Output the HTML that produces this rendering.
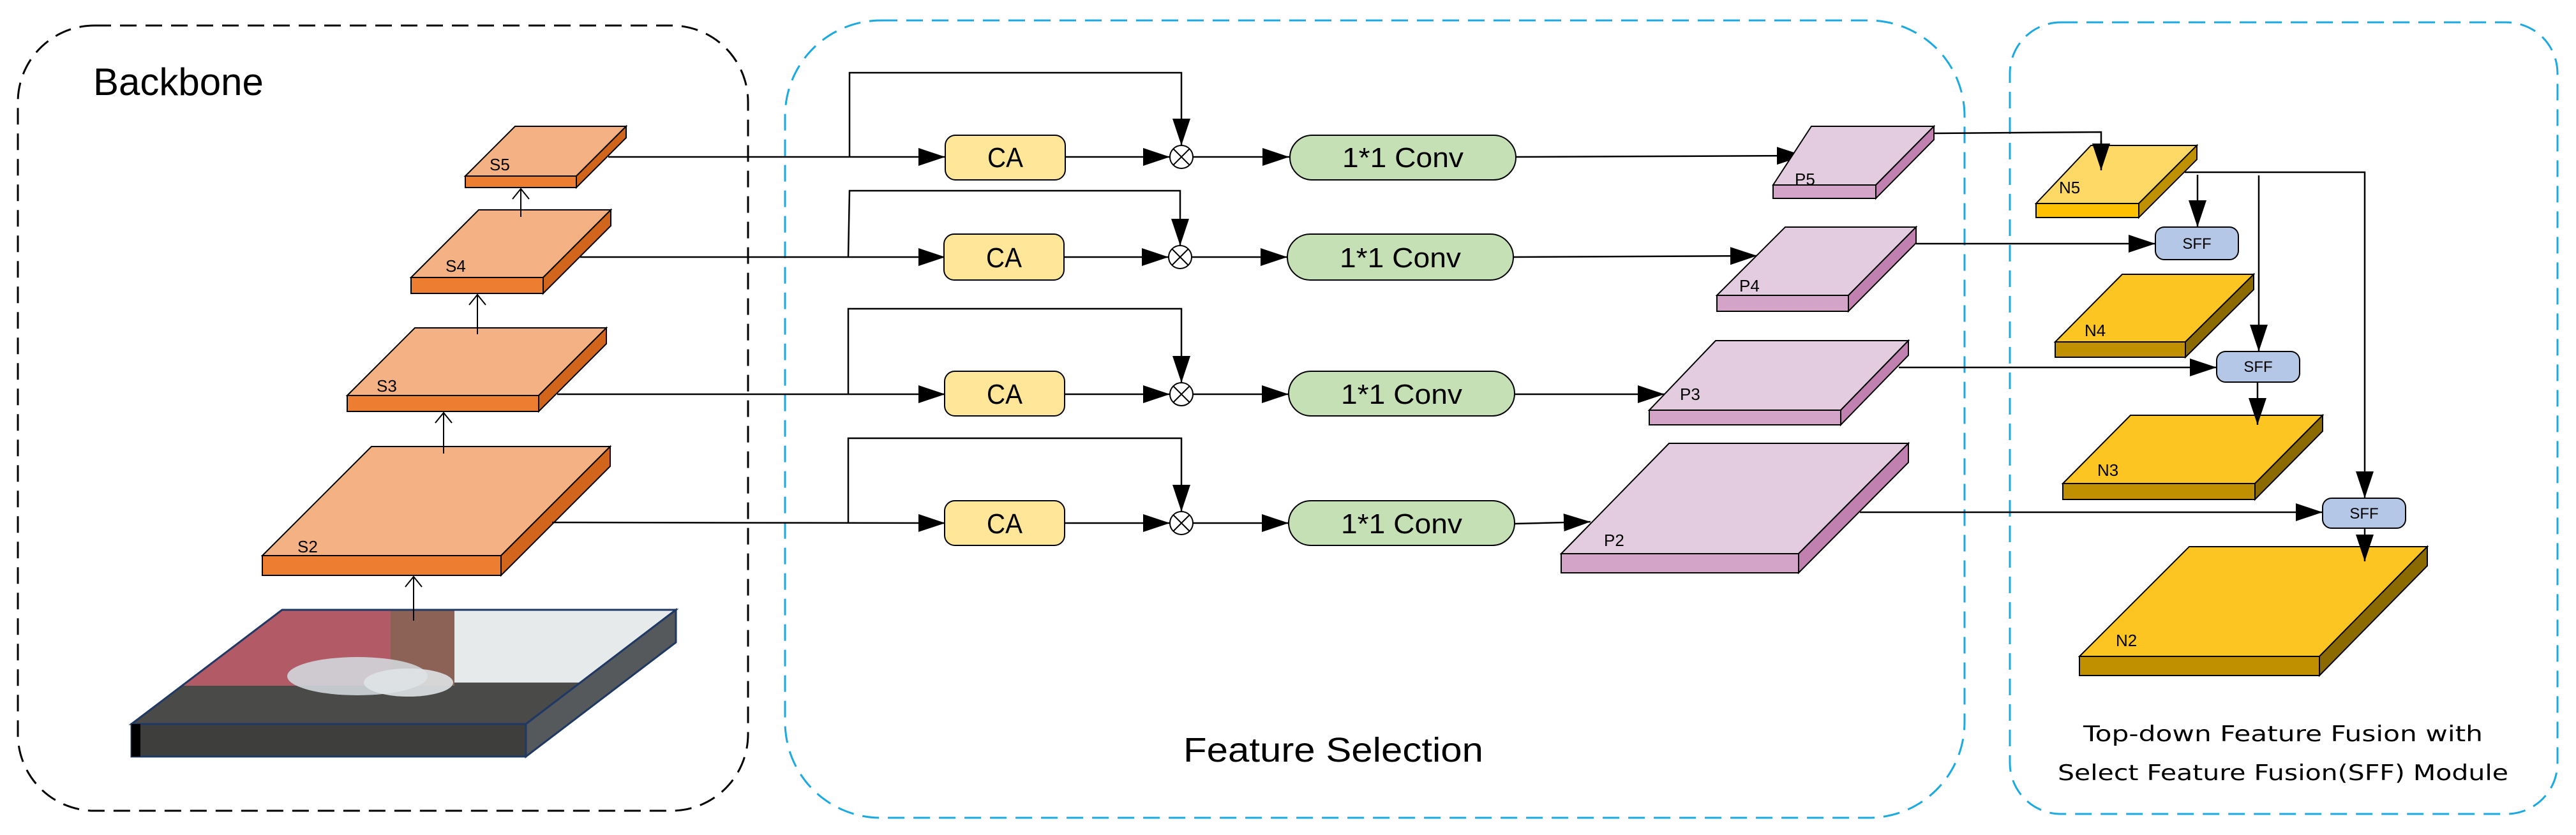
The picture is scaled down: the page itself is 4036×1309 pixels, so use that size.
<!DOCTYPE html>
<html><head><meta charset="utf-8"><style>
html,body{margin:0;padding:0;background:#fff;}
svg{display:block;}
text{font-family:"Liberation Sans",sans-serif;}
</style></head><body>
<svg width="4036" height="1309" viewBox="0 0 4036 1309" xmlns="http://www.w3.org/2000/svg">
<defs>
<marker id="a" markerWidth="42" markerHeight="28" refX="42" refY="14" orient="auto" markerUnits="userSpaceOnUse"><path d="M0,0 L42,14 L0,28 z" fill="#000"/></marker>
<marker id="o" markerWidth="20" markerHeight="30" refX="18" refY="15" orient="auto" markerUnits="userSpaceOnUse"><path d="M2,2 L18,15 L2,28" fill="none" stroke="#000" stroke-width="2"/></marker>
<clipPath id="ph"><polygon points="206,1135 442,956 1059,956 824,1135"/></clipPath>
</defs>

<!-- boxes -->
<rect x="28" y="40" width="1144" height="1231" rx="120" fill="none" stroke="#000" stroke-width="3" stroke-dasharray="26,14"/>
<rect x="1230" y="32" width="1848" height="1250" rx="150" fill="none" stroke="#1aa9e0" stroke-width="3" stroke-dasharray="26,14"/>
<rect x="3149" y="35" width="858" height="1241" rx="80" fill="none" stroke="#1aa9e0" stroke-width="3" stroke-dasharray="26,14"/>

<text x="146" y="149" font-size="60">Backbone</text>
<text x="1854" y="1194" font-size="54" textLength="470" lengthAdjust="spacingAndGlyphs">Feature Selection</text>
<text x="3577" y="1162" font-size="34" text-anchor="middle" style="font-family:'DejaVu Sans',sans-serif" textLength="626" lengthAdjust="spacingAndGlyphs">Top-down Feature Fusion with</text>
<text x="3577" y="1223" font-size="34" text-anchor="middle" style="font-family:'DejaVu Sans',sans-serif" textLength="706" lengthAdjust="spacingAndGlyphs">Select Feature Fusion(SFF) Module</text>

<!-- image slab -->
<g>
<polygon points="206,1135 442,956 1059,956 824,1135" fill="#4c4c4a"/>
<g clip-path="url(#ph)">
<rect x="200" y="950" width="420" height="130" fill="#b25a66"/>
<rect x="612" y="950" width="100" height="130" fill="#8c6256"/>
<rect x="712" y="950" width="360" height="120" fill="#e6eaea"/>
<rect x="200" y="1075" width="900" height="70" fill="#4a4a48"/>
<ellipse cx="560" cy="1060" rx="110" ry="30" fill="#d0d6da" opacity="0.9"/>
<ellipse cx="640" cy="1070" rx="70" ry="22" fill="#dfe3e6" opacity="0.9"/>
</g>
<polygon points="206,1135 442,956 1059,956 824,1135" fill="none" stroke="#1f3864" stroke-width="3"/>
<rect x="206" y="1135" width="618" height="51" fill="#3e3e3c" stroke="#1f3864" stroke-width="3"/>
<polygon points="824,1135 1059,956 1059,1007 824,1186" fill="#55595c" stroke="#1f3864" stroke-width="3"/>
<rect x="206" y="1135" width="14" height="51" fill="#000"/>
</g>

<!-- backbone slabs -->
<g stroke="#000" stroke-width="2">
<polygon points="411,871 582,700 956,700 785,871" fill="#f4b183"/>
<rect x="411" y="871" width="374" height="31" fill="#ed7d31"/>
<polygon points="785,871 956,700 956,731 785,902" fill="#d0651b"/>
<polygon points="544,620 650,514 950,514 844,620" fill="#f4b183"/>
<rect x="544" y="620" width="300" height="25" fill="#ed7d31"/>
<polygon points="844,620 950,514 950,539 844,645" fill="#d0651b"/>
<polygon points="644,435 750,329 957,329 851,435" fill="#f4b183"/>
<rect x="644" y="435" width="207" height="25" fill="#ed7d31"/>
<polygon points="851,435 957,329 957,354 851,460" fill="#d0651b"/>
<polygon points="729,276 807,198 981,198 903,276" fill="#f4b183"/>
<rect x="729" y="276" width="174" height="18" fill="#ed7d31"/>
<polygon points="903,276 981,198 981,216 903,294" fill="#d0651b"/>
</g>
<g font-size="26">
<text x="466" y="866">S2</text><text x="590" y="614">S3</text><text x="698" y="426">S4</text><text x="767" y="267">S5</text>
</g>
<g stroke="#000" stroke-width="2" fill="none" marker-end="url(#o)">
<line x1="648" y1="973" x2="648" y2="904"/>
<line x1="695" y1="711" x2="695" y2="647"/>
<line x1="748" y1="524" x2="748" y2="462"/>
<line x1="816" y1="340" x2="816" y2="296"/>
</g>

<!-- feature selection rows -->
<g stroke="#000" stroke-width="2.5" fill="none">
<line x1="953" y1="246" x2="1481" y2="246" marker-end="url(#a)"/>
<polyline points="1331,246 1331,114 1851,114 1851,228" marker-end="url(#a)"/>
<line x1="909" y1="403" x2="1481" y2="403" marker-end="url(#a)"/>
<polyline points="1329,403 1331,299 1849,299 1849,385" marker-end="url(#a)"/>
<line x1="873" y1="618" x2="1481" y2="618" marker-end="url(#a)"/>
<polyline points="1329,618 1329,484 1851,484 1851,600" marker-end="url(#a)"/>
<line x1="865" y1="819" x2="1481" y2="820" marker-end="url(#a)"/>
<polyline points="1329,820 1329,687 1851,687 1851,802" marker-end="url(#a)"/>
</g>
<g stroke="#000" stroke-width="2.5" fill="none" marker-end="url(#a)">
<line x1="1667" y1="246" x2="1833" y2="246"/><line x1="1869" y1="246" x2="2020" y2="246"/>
<line x1="1665" y1="403" x2="1831" y2="403"/><line x1="1867" y1="403" x2="2017" y2="403"/>
<line x1="1667" y1="618" x2="1833" y2="618"/><line x1="1869" y1="618" x2="2019" y2="618"/>
<line x1="1667" y1="820" x2="1833" y2="820"/><line x1="1869" y1="820" x2="2019" y2="820"/>
<line x1="2375" y1="246" x2="2826" y2="244"/>
<line x1="2370" y1="403" x2="2753" y2="401"/>
<line x1="2373" y1="618" x2="2608" y2="618"/>
<line x1="2373" y1="821" x2="2492" y2="818"/>
</g>
<g stroke="#000" stroke-width="2">
<rect x="1481" y="212" width="188" height="70" rx="16" fill="#ffe699"/>
<rect x="1479" y="367" width="188" height="72" rx="16" fill="#ffe699"/>
<rect x="1480" y="582" width="188" height="70" rx="16" fill="#ffe699"/>
<rect x="1480" y="785" width="188" height="70" rx="16" fill="#ffe699"/>
<rect x="2021" y="212" width="354" height="70" rx="35" fill="#c5e0b4"/>
<rect x="2017" y="367" width="354" height="72" rx="36" fill="#c5e0b4"/>
<rect x="2019" y="582" width="354" height="70" rx="35" fill="#c5e0b4"/>
<rect x="2019" y="785" width="354" height="70" rx="35" fill="#c5e0b4"/>
</g>
<g fill="#fff" stroke="#000" stroke-width="2">
<circle cx="1851" cy="246" r="18"/><path d="M1838,233 L1864,259 M1864,233 L1838,259"/>
<circle cx="1849" cy="403" r="18"/><path d="M1836,390 L1862,416 M1862,390 L1836,416"/>
<circle cx="1851" cy="618" r="18"/><path d="M1838,605 L1864,631 M1864,605 L1838,631"/>
<circle cx="1851" cy="820" r="18"/><path d="M1838,807 L1864,833 M1864,807 L1838,833"/>
</g>
<g font-size="44" text-anchor="middle">
<text x="1575" y="262" textLength="56" lengthAdjust="spacingAndGlyphs">CA</text>
<text x="1573" y="419" textLength="56" lengthAdjust="spacingAndGlyphs">CA</text>
<text x="1574" y="633" textLength="56" lengthAdjust="spacingAndGlyphs">CA</text>
<text x="1574" y="836" textLength="56" lengthAdjust="spacingAndGlyphs">CA</text>
<text x="2198" y="262" textLength="190" lengthAdjust="spacingAndGlyphs">1*1 Conv</text>
<text x="2194" y="419" textLength="190" lengthAdjust="spacingAndGlyphs">1*1 Conv</text>
<text x="2196" y="633" textLength="190" lengthAdjust="spacingAndGlyphs">1*1 Conv</text>
<text x="2196" y="836" textLength="190" lengthAdjust="spacingAndGlyphs">1*1 Conv</text>
</g>

<!-- P slabs -->
<g stroke="#000" stroke-width="2">
<polygon points="2778,290 2838,198 3030,198 2939,290" fill="#e4cce0"/>
<rect x="2778" y="290" width="161" height="21" fill="#d4a4c8"/>
<polygon points="2939,290 3030,198 3030,219 2939,311" fill="#c080b0"/>
<polygon points="2690,463 2797,356 3002,356 2896,463" fill="#e4cce0"/>
<rect x="2690" y="463" width="206" height="25" fill="#d4a4c8"/>
<polygon points="2896,463 3002,356 3002,381 2896,488" fill="#c080b0"/>
<polygon points="2584,643 2688,534 2990,534 2884,643" fill="#e4cce0"/>
<rect x="2584" y="643" width="300" height="23" fill="#d4a4c8"/>
<polygon points="2884,643 2990,534 2990,557 2884,666" fill="#c080b0"/>
<polygon points="2446,868 2615,695 2990,695 2818,868" fill="#e4cce0"/>
<rect x="2446" y="868" width="372" height="30" fill="#d4a4c8"/>
<polygon points="2818,868 2990,695 2990,725 2818,898" fill="#c080b0"/>
</g>
<g font-size="26">
<text x="2812" y="290">P5</text><text x="2725" y="457">P4</text><text x="2632" y="627">P3</text><text x="2513" y="856">P2</text>
</g>

<!-- right connections -->
<g stroke="#000" stroke-width="2.5" fill="none" marker-end="url(#a)">
<polyline points="3030,209 3292,207 3292,267"/>
<line x1="3002" y1="382" x2="3377" y2="382"/>
<line x1="2975" y1="576" x2="3473" y2="576"/>
<line x1="2914" y1="803" x2="3639" y2="803"/>
<polyline points="3423,270 3705,270 3705,781"/>
<line x1="3443" y1="274" x2="3443" y2="356"/>
<line x1="3539" y1="275" x2="3539" y2="551"/>
</g>

<!-- N slabs -->
<g stroke="#000" stroke-width="2">
<polygon points="3190,319 3276,228 3442,228 3351,319" fill="#ffd966"/>
<rect x="3190" y="319" width="161" height="22" fill="#ffc000"/>
<polygon points="3351,319 3442,228 3442,250 3351,341" fill="#bf9000"/>
<polygon points="3220,536 3325,430 3531,430 3424,536" fill="#fdc521"/>
<rect x="3220" y="536" width="204" height="24" fill="#c09000"/>
<polygon points="3424,536 3531,430 3531,454 3424,560" fill="#8b6a00"/>
<polygon points="3232,758 3338,651 3639,651 3533,758" fill="#fdc521"/>
<rect x="3232" y="758" width="301" height="25" fill="#c09000"/>
<polygon points="3533,758 3639,651 3639,676 3533,783" fill="#8b6a00"/>
<polygon points="3258,1029 3430,857 3803,857 3634,1029" fill="#fdc521"/>
<rect x="3258" y="1029" width="376" height="30" fill="#c09000"/>
<polygon points="3634,1029 3803,857 3803,887 3634,1059" fill="#8b6a00"/>
</g>
<g stroke="#000" stroke-width="2.5" fill="none" marker-end="url(#a)">
<line x1="3292" y1="220" x2="3292" y2="267"/>
<line x1="3537" y1="599" x2="3537" y2="666"/>
<line x1="3705" y1="828" x2="3705" y2="880"/>
</g>
<g style="font-family:'DejaVu Sans',sans-serif" font-size="26">
<text x="3226" y="303">N5</text><text x="3266" y="527">N4</text><text x="3286" y="746">N3</text><text x="3315" y="1013">N2</text>
</g>
<g stroke="#000" stroke-width="2" fill="#b4c7e7">
<rect x="3377" y="356" width="130" height="51" rx="14"/>
<rect x="3473" y="551" width="130" height="48" rx="14"/>
<rect x="3639" y="781" width="130" height="47" rx="14"/>
</g>
<g style="font-family:'DejaVu Sans',sans-serif" font-size="24" text-anchor="middle">
<text x="3442" y="390">SFF</text><text x="3538" y="583">SFF</text><text x="3704" y="813">SFF</text>
</g>
</svg>
</body></html>
